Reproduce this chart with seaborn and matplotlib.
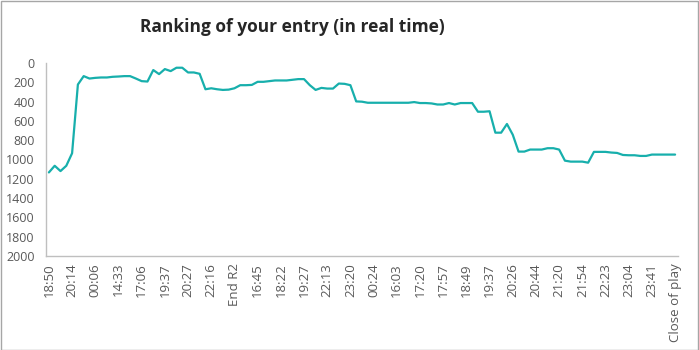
import matplotlib
matplotlib.use("Agg")
import matplotlib.pyplot as plt
import seaborn as sns
import pandas as pd
import numpy as np
from matplotlib.patches import Rectangle

title = "Ranking of your entry (in real time)"

tick_labels = ["18:50", "20:14", "00:06", "14:33", "17:06", "19:37", "20:27",
               "22:16", "End R2", "16:45", "18:22", "19:27", "22:13", "23:20",
               "00:24", "16:03", "17:20", "17:57", "18:49", "19:37", "20:26",
               "20:44", "21:20", "21:54", "22:23", "23:04", "23:41", "Close of play"]

ranking = [1134, 1065, 1120, 1065, 935, 223, 136, 161, 154, 150,
           150, 143, 140, 136, 136, 161, 188, 192, 73, 115,
           63, 84, 49, 49, 98, 98, 112, 272, 262, 272,
           279, 276, 262, 230, 230, 227, 195, 195, 188, 181,
           181, 181, 174, 167, 167, 230, 279, 258, 265, 265,
           213, 216, 230, 398, 401, 412, 412, 412, 412, 412,
           412, 412, 412, 405, 415, 415, 419, 430, 430, 415,
           430, 415, 415, 415, 505, 505, 500, 722, 722, 632,
           743, 918, 918, 897, 897, 897, 883, 883, 897, 1012,
           1022, 1022, 1022, 1033, 921, 921, 921, 928, 932, 953,
           956, 956, 963, 963, 949, 949, 949, 949, 949]

label_step = 4

df = pd.DataFrame({"idx": np.arange(len(ranking)), "rank": ranking})

sns.set_style("white")
plt.rcParams["font.family"] = ["Open Sans", "DejaVu Sans"]

fig = plt.figure(figsize=(6.99, 3.5), dpi=100)
ax = fig.add_axes([46/699, 1-256/350, (678-46)/699, (256-63)/350])

teal = "#17AFAC"
grey_axis = "#BFBFBF"
grey_text = "#595959"

sns.lineplot(data=df, x="idx", y="rank", ax=ax, color=teal, linewidth=1.6)

n = len(ranking)
ax.set_xlim(-0.5, n - 0.5)
ax.set_ylim(2000, 0)
ax.set_yticks(np.arange(0, 2001, 200))
ax.set_yticklabels([str(v) for v in range(0, 2001, 200)])

ax.set_xticks(np.arange(0, n, label_step))
ax.set_xticklabels(tick_labels, rotation=90)
ax.set_xticks(np.arange(-0.5, n, 1), minor=True)

ax.set_xlabel("")
ax.set_ylabel("")

for s in ["top", "right"]:
    ax.spines[s].set_visible(False)
for s in ["left", "bottom"]:
    ax.spines[s].set_color(grey_axis)
    ax.spines[s].set_linewidth(1.0)

ax.tick_params(axis="y", which="major", direction="out", length=4, width=1,
               color=grey_axis, labelcolor=grey_text, labelsize=9, pad=4)
ax.tick_params(axis="x", which="major", length=0, labelcolor=grey_text,
               labelsize=9.5, pad=5)
ax.tick_params(axis="x", which="minor", direction="out", length=4, width=0.8,
               color=grey_axis)
ax.grid(False)

fig.text(292/699, 1-27/350, title, ha="center", va="center",
         fontsize=12.5, fontweight="bold", color="#262626")

fig.patches.append(Rectangle((0.5/699, 0.5/350), 1-1.5/699, 1-1.5/350,
                             transform=fig.transFigure, fill=False,
                             edgecolor="#A6A6A6", linewidth=1))

fig.savefig("out.png", dpi=100)
